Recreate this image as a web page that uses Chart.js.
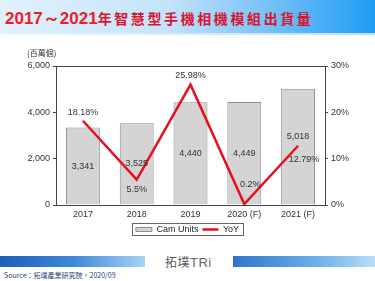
<!DOCTYPE html>
<html>
<head>
<meta charset="utf-8">
<script src="https://cdn.jsdelivr.net/npm/chart.js@4.4.0/dist/chart.umd.min.js"></script>
<style>
  html, body { margin: 0; padding: 0; background: #fff; }
  #page { position: relative; width: 375px; height: 281px; overflow: hidden; background: #fff; }
  #banner { position: absolute; left: 0; top: 0; width: 375px; height: 33px;
    background: linear-gradient(to right, #e2f1fc 0%, #c4e3fa 45%, #5db6f5 80%, #1f9bf3 100%); }
  #bannerLine { position: absolute; left: 0; top: 33px; width: 375px; height: 2px;
    background: linear-gradient(to right, #eef7fd, #bfe0f8); }
  #title { position: absolute; left: 5px; top: 7px; white-space: nowrap; color: #ee1c25; }
  #title .num { font: bold 17px "Liberation Sans", Arial, sans-serif; }
  #title .zh { font: bold 14px "Noto Sans CJK TC", sans-serif; letter-spacing: 2.6px; color: #d8142e; }
  #wrap { position: absolute; left: 0; top: 36px; width: 375px; height: 215px; }
  .strip { position: absolute; top: 256px; height: 11px; }
  #stripL { left: 0; width: 145px; background: linear-gradient(to right, #1c5fb8, #3d88d8 50%, #a9d2f3); }
  #stripR { left: 233px; width: 142px; background: linear-gradient(to right, #2d76cc, #6fb0ea 60%, #b9ddf7); }
  #logo { position: absolute; left: 165px; top: 253px; font: 12px "Noto Sans CJK TC", sans-serif; color: #555; letter-spacing: 0.5px; }
  #logo b { font: 13px "Liberation Sans", sans-serif; color: #666; }
  #source { position: absolute; left: 4px; top: 270px; font: 7px "Noto Sans CJK TC", sans-serif; color: #1d3c78; }
</style>
</head>
<body>
<div id="page">
  <div id="banner"></div>
  <div id="bannerLine"></div>
  <div id="title"><span class="num">2017～2021</span><span class="zh">年智慧型手機相機模組出貨量</span></div>
  <div class="strip" id="stripL"></div>
  <div class="strip" id="stripR"></div>
  <div id="logo">拓墣<b>TRi</b></div>
  <div id="source">Source：拓墣產業研究院，2020/09</div>
  <div id="wrap"><canvas id="camChart"></canvas></div>
</div>
<script>
var years = ['2017', '2018', '2019', '2020 (F)', '2021 (F)'];
var camUnits = [3341, 3525, 4440, 4449, 5018];   // 百萬個
var yoy = [18.18, 5.5, 25.98, 0.2, 12.79];       // %
var unitTicks = [0, 2000, 4000, 6000];
var pctTicks = [0, 10, 20, 30];

// label offsets for the YoY numbers (px, relative to the point)
var yoyOffX = [0, 0, 0, 6, 6];
var yoyOffY = [-8, 10, -9, -20, 14];
var barOffY = [0, 0, 0, 0, -10];

var boxPlugin = {
    id: 'boxPlugin',
    afterDraw: function(chart) {
        var ctx = chart.ctx;
        var a = chart.chartArea;
        ctx.save();
        ctx.strokeStyle = '#444';
        ctx.lineWidth = 1;
        ctx.strokeRect(Math.round(a.left) + 0.5, Math.round(a.top) + 0.5,
            Math.round(a.right - a.left), Math.round(a.bottom - a.top));

        // unit label
        ctx.fillStyle = '#333';
        ctx.font = '8px "Noto Sans CJK TC", sans-serif';
        ctx.textAlign = 'left';
        ctx.textBaseline = 'middle';
        ctx.fillText('(百萬個)', 27, 17);

        // value labels
        ctx.font = '9px "Liberation Sans", Arial, sans-serif';
        ctx.textAlign = 'center';
        var barMeta = chart.getDatasetMeta(0);
        barMeta.data.forEach(function(bar, i) {
            var y = (bar.y + bar.base) / 2 + barOffY[i];
            ctx.fillText(camUnits[i].toLocaleString('en-US'), bar.x, y);
        });
        var lineMeta = chart.getDatasetMeta(1);
        lineMeta.data.forEach(function(pt, i) {
            ctx.fillText(yoy[i] + '%', pt.x + yoyOffX[i], pt.y + yoyOffY[i]);
        });

        // legend frame
        var hb = chart.legend.legendHitBoxes;
        if (hb && hb.length) {
            var l = Math.min.apply(null, hb.map(function(b) { return b.left; })) - 4;
            var r = Math.max.apply(null, hb.map(function(b) { return b.left + b.width; })) + 4;
            var t = hb[0].top - 2, h = hb[0].height + 3;
            ctx.strokeStyle = '#666';
            ctx.strokeRect(Math.round(l) + 0.5, Math.round(t) + 0.5, Math.round(r - l), Math.round(h));
        }
        ctx.restore();
    }
};

document.addEventListener('DOMContentLoaded', function() {
    var ctx = document.getElementById('camChart').getContext('2d');
    Chart.defaults.font.family = '"Liberation Sans", Arial, sans-serif';
    Chart.defaults.font.size = 9;
    Chart.defaults.color = '#333';

    new Chart(ctx, {
        data: {
            labels: years,
            datasets: [{
                type: 'bar',
                label: 'Cam Units',
                data: camUnits,
                yAxisID: 'y',
                backgroundColor: '#d4d4d4',
                borderColor: '#8c8c8c',
                borderWidth: 1,
                barPercentage: 0.63,
                categoryPercentage: 1,
                pointStyle: 'rect',
                order: 2
            }, {
                type: 'line',
                label: 'YoY',
                data: yoy,
                yAxisID: 'y1',
                borderColor: '#e8101c',
                backgroundColor: '#e8101c',
                borderWidth: 2.5,
                pointRadius: 0,
                pointStyle: 'line',
                tension: 0,
                order: 1
            }]
        },
        options: {
            responsive: true,
            maintainAspectRatio: false,
            animation: false,
            layout: { padding: { top: 30, bottom: 7, left: 0, right: 0 } },
            scales: {
                x: {
                    grid: { display: false, drawTicks: false },
                    border: { display: true, color: '#444' },
                    ticks: { padding: 4, color: '#333' },
                    afterFit: function(s) { s.height = 16; }
                },
                y: {
                    position: 'left',
                    min: 0, max: 6000,
                    afterBuildTicks: function(s) { s.ticks = unitTicks.map(function(v) { return { value: v }; }); },
                    ticks: { padding: 3, callback: function(v) { return v.toLocaleString('en-US'); } },
                    grid: { drawOnChartArea: false, tickLength: 3, color: '#444' },
                    border: { display: true, color: '#444' },
                    afterFit: function(s) { s.width = 56; }
                },
                y1: {
                    position: 'right',
                    min: 0, max: 30,
                    afterBuildTicks: function(s) { s.ticks = pctTicks.map(function(v) { return { value: v }; }); },
                    ticks: { padding: 3, callback: function(v) { return v + '%'; } },
                    grid: { drawOnChartArea: false, tickLength: 3, color: '#444' },
                    border: { display: true, color: '#444' },
                    afterFit: function(s) { s.width = 50; }
                }
            },
            plugins: {
                legend: {
                    position: 'bottom',
                    labels: {
                        usePointStyle: true,
                        pointStyleWidth: 16,
                        boxHeight: 4,
                        padding: 4,
                        color: '#222',
                        font: { size: 9 },
                        sort: function(a, b) { return a.datasetIndex - b.datasetIndex; }
                    }
                },
                tooltip: { enabled: false }
            }
        },
        plugins: [boxPlugin]
    });
});
</script>
</body>
</html>
